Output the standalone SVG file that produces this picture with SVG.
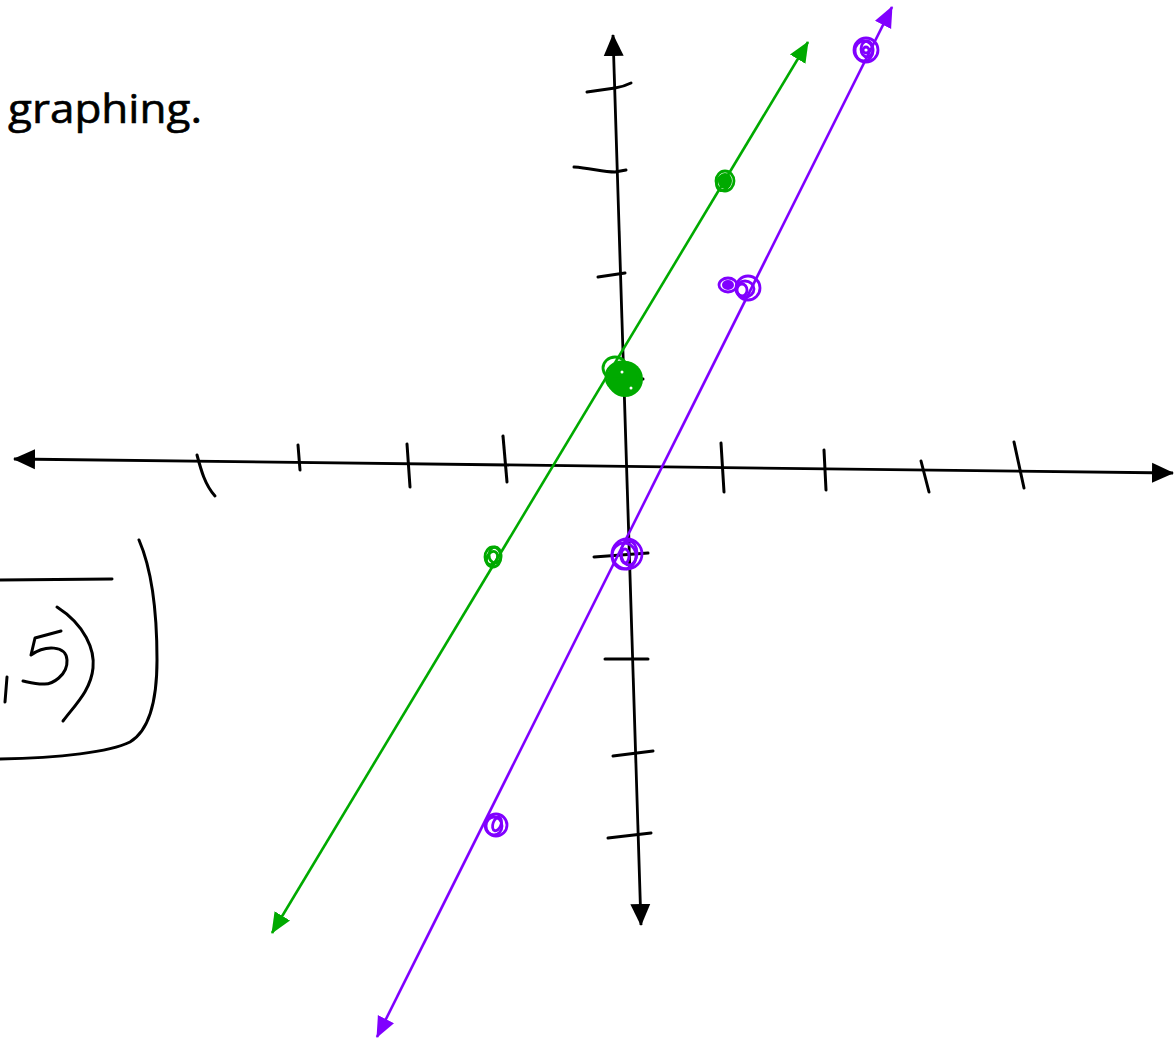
<svg xmlns="http://www.w3.org/2000/svg" width="1174" height="1039" viewBox="0 0 1174 1039">
<style>
.ink{fill:none;stroke:#000;stroke-width:3;stroke-linecap:round;stroke-linejoin:round}
.ax{fill:none;stroke:#000;stroke-width:2.8}
.gl{fill:none;stroke:#00aa00;stroke-width:2.6}
.pl{fill:none;stroke:#8000ff;stroke-width:2.6}
.gs{fill:none;stroke:#00aa00;stroke-width:2.8}
.ps{fill:none;stroke:#8000ff;stroke-width:2.8}
.lbl{font-family:"Open Sans","DejaVu Sans",sans-serif;font-size:40px;fill:#000;stroke:#000;stroke-width:0.6}
</style>
<defs>
<marker id="ab" markerUnits="userSpaceOnUse" markerWidth="22" markerHeight="22" refX="21" refY="10" orient="auto-start-reverse" viewBox="0 0 22 20"><path d="M0,0 L22,10 L0,20 z" fill="#000"/></marker>
<marker id="ag" markerUnits="userSpaceOnUse" markerWidth="21" markerHeight="20" refX="20" refY="9" orient="auto-start-reverse" viewBox="0 0 21 18"><path d="M0,0 L21,9 L0,18 z" fill="#00aa00"/></marker>
<marker id="ap" markerUnits="userSpaceOnUse" markerWidth="21" markerHeight="20" refX="20" refY="9" orient="auto-start-reverse" viewBox="0 0 21 18"><path d="M0,0 L21,9 L0,18 z" fill="#8000ff"/></marker>
</defs>
<rect width="1174" height="1039" fill="#fff"/>
<text class="lbl" x="8" y="123" textLength="194" lengthAdjust="spacingAndGlyphs">graphing.</text>
<g id="bracket">
<path class="ink" d="M0,580 L112,579"/>
<path class="ink" d="M139,540 C152,570 157,610 157,660 C157,700 150,730 130,742 C110,752 60,758 0,759"/>
<path class="ink" d="M7,677 L5,702"/>
<path class="ink" d="M61,631 L35,638 L31,655 C45,645 66,645 67,660 C68,675 52,685 43,684 C35,684 28,682 23,681"/>
<path class="ink" d="M57,607 C85,625 95,650 93,668 C91,690 75,705 63,721"/>
</g>
<g id="axes">
<line class="ax" x1="14" y1="459" x2="1173" y2="473" marker-start="url(#ab)" marker-end="url(#ab)"/>
<line class="ax" x1="613" y1="35" x2="641" y2="925" marker-start="url(#ab)" marker-end="url(#ab)"/>
<g id="ticks">
<path class="ink" d="M197,455 C201,470 205,485 215,496"/>
<path class="ink" d="M298,445 L300,470"/>
<path class="ink" d="M407,444 L410,487"/>
<path class="ink" d="M503,436 L507,482"/>
<path class="ink" d="M721,443 L724,492"/>
<path class="ink" d="M824,450 L826,490"/>
<path class="ink" d="M921,461 L929,492"/>
<path class="ink" d="M1014,442 L1024,488"/>
<path class="ink" d="M587,92 L615,88 C622,87 627,85 631,83"/>
<path class="ink" d="M574,167 C590,168 603,172 615,172 L626,170"/>
<path class="ink" d="M598,277 L625,273"/>
<path class="ink" d="M610,380 L643,379"/>
<path class="ink" d="M594,557 L648,553"/>
<path class="ink" d="M605,659 L648,659"/>
<path class="ink" d="M613,756 L653,751"/>
<path class="ink" d="M608,838 L651,833"/>
</g>
</g>
<g id="connectors">
<line class="gl" x1="808" y1="42" x2="272" y2="933" marker-start="url(#ag)" marker-end="url(#ag)"/>
<line class="pl" x1="892" y1="7" x2="377" y2="1037" marker-start="url(#ap)" marker-end="url(#ap)"/>
</g>
<g id="green-pt-1">
<ellipse class="gs" cx="725" cy="181" rx="9" ry="10"/>
<ellipse cx="725" cy="181" rx="7" ry="8" fill="#00aa00"/>
<ellipse class="gs" cx="723" cy="183" rx="6" ry="8" transform="rotate(25 723 183)"/>
</g>
<g id="green-pt-2">
<circle cx="625" cy="379" r="18" fill="#00aa00"/>
<ellipse class="gs" cx="615" cy="368" rx="12" ry="11"/>
<ellipse class="gs" cx="622" cy="377" rx="16" ry="15"/>
<circle cx="622" cy="372" r="1.5" fill="#fff"/>
<circle cx="631" cy="388" r="1.5" fill="#fff"/>
</g>
<g id="green-pt-3">
<ellipse class="gs" cx="493" cy="557" rx="8" ry="10"/>
<ellipse class="gs" cx="492" cy="558" rx="5" ry="7" transform="rotate(30 492 558)"/>
<ellipse class="gs" cx="495" cy="555" rx="6" ry="8"/>
</g>
<g id="purple-pt-1">
<circle class="ps" cx="866" cy="50" r="12"/>
<ellipse class="ps" cx="864" cy="51" rx="9" ry="10"/>
<ellipse class="ps" cx="867" cy="49" rx="6" ry="8"/>
<circle class="ps" cx="866" cy="50" r="3"/>
</g>
<g id="purple-pt-2">
<ellipse class="ps" cx="728" cy="285" rx="9" ry="7"/>
<ellipse cx="728" cy="285" rx="6" ry="5" fill="#8000ff"/>
<circle class="ps" cx="748" cy="288" r="12"/>
<ellipse class="ps" cx="745" cy="289" rx="9" ry="8"/>
<ellipse class="ps" cx="742" cy="290" rx="5" ry="6"/>
</g>
<g id="purple-pt-3">
<circle class="ps" cx="627" cy="554" r="15"/>
<ellipse class="ps" cx="624" cy="556" rx="12" ry="13"/>
<ellipse class="ps" cx="629" cy="553" rx="8" ry="12"/>
<ellipse class="ps" cx="625" cy="556" rx="4" ry="7"/>
</g>
<g id="purple-pt-4">
<circle class="ps" cx="496" cy="825" r="11"/>
<ellipse class="ps" cx="494" cy="826" rx="8" ry="9"/>
<ellipse class="ps" cx="497" cy="824" rx="4" ry="7" transform="rotate(20 497 824)"/>
</g>
</svg>
